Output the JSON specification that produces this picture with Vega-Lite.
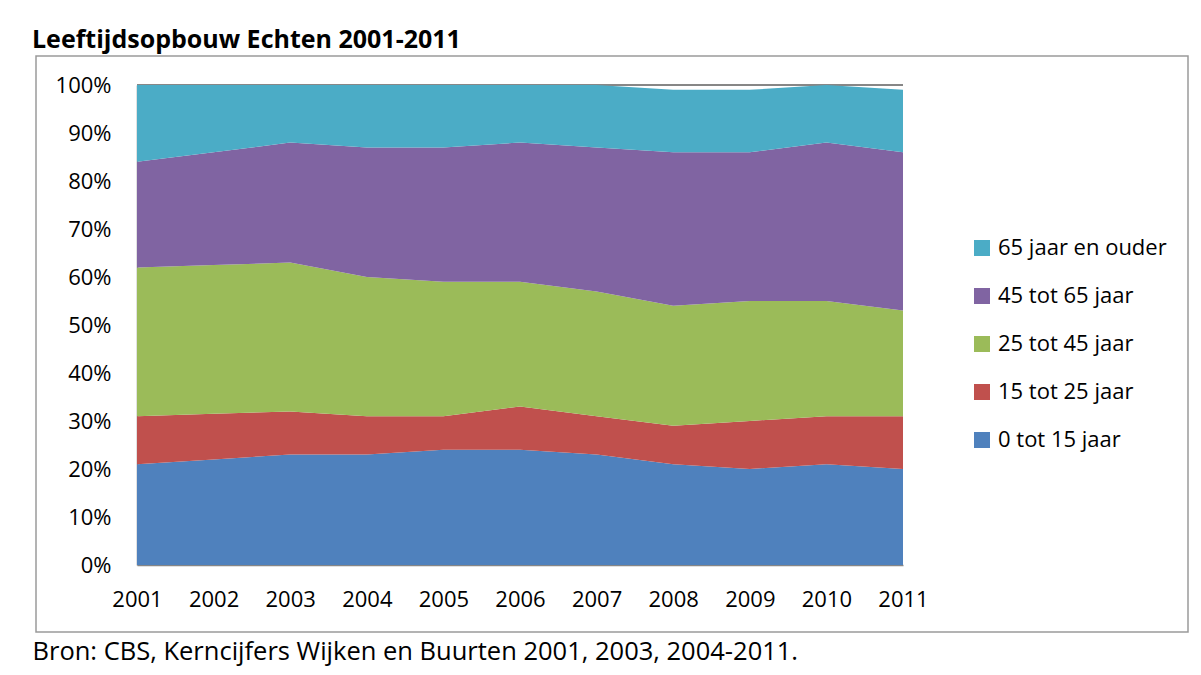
{
  "$schema": "https://vega.github.io/schema/vega-lite/v6.json",
  "width": 1152,
  "height": 576,
  "autosize": "none",
  "padding": {"left": 36, "top": 56, "right": 13, "bottom": 43},
  "background": "white",
  "title": {
    "text": "Leeftijdsopbouw Echten 2001-2011",
    "anchor": "start",
    "frame": "group",
    "font": "Open Sans",
    "fontSize": 25,
    "fontWeight": "bold",
    "color": "#000000",
    "baseline": "alphabetic",
    "dx": -4,
    "offset": -17
  },
  "config": {
    "view": {"stroke": "#9a9a9a", "strokeWidth": 1.5},
    "font": "Open Sans"
  },
  "data": {
    "values": [
      {"jaar": "2001", "groep": "0 tot 15 jaar", "rang": 1, "pct": 21},
      {"jaar": "2001", "groep": "15 tot 25 jaar", "rang": 2, "pct": 10},
      {"jaar": "2001", "groep": "25 tot 45 jaar", "rang": 3, "pct": 31},
      {"jaar": "2001", "groep": "45 tot 65 jaar", "rang": 4, "pct": 22},
      {"jaar": "2001", "groep": "65 jaar en ouder", "rang": 5, "pct": 16},
      {"jaar": "2002", "groep": "0 tot 15 jaar", "rang": 1, "pct": 22},
      {"jaar": "2002", "groep": "15 tot 25 jaar", "rang": 2, "pct": 9.5},
      {"jaar": "2002", "groep": "25 tot 45 jaar", "rang": 3, "pct": 31},
      {"jaar": "2002", "groep": "45 tot 65 jaar", "rang": 4, "pct": 23.5},
      {"jaar": "2002", "groep": "65 jaar en ouder", "rang": 5, "pct": 14},
      {"jaar": "2003", "groep": "0 tot 15 jaar", "rang": 1, "pct": 23},
      {"jaar": "2003", "groep": "15 tot 25 jaar", "rang": 2, "pct": 9},
      {"jaar": "2003", "groep": "25 tot 45 jaar", "rang": 3, "pct": 31},
      {"jaar": "2003", "groep": "45 tot 65 jaar", "rang": 4, "pct": 25},
      {"jaar": "2003", "groep": "65 jaar en ouder", "rang": 5, "pct": 12},
      {"jaar": "2004", "groep": "0 tot 15 jaar", "rang": 1, "pct": 23},
      {"jaar": "2004", "groep": "15 tot 25 jaar", "rang": 2, "pct": 8},
      {"jaar": "2004", "groep": "25 tot 45 jaar", "rang": 3, "pct": 29},
      {"jaar": "2004", "groep": "45 tot 65 jaar", "rang": 4, "pct": 27},
      {"jaar": "2004", "groep": "65 jaar en ouder", "rang": 5, "pct": 13},
      {"jaar": "2005", "groep": "0 tot 15 jaar", "rang": 1, "pct": 24},
      {"jaar": "2005", "groep": "15 tot 25 jaar", "rang": 2, "pct": 7},
      {"jaar": "2005", "groep": "25 tot 45 jaar", "rang": 3, "pct": 28},
      {"jaar": "2005", "groep": "45 tot 65 jaar", "rang": 4, "pct": 28},
      {"jaar": "2005", "groep": "65 jaar en ouder", "rang": 5, "pct": 13},
      {"jaar": "2006", "groep": "0 tot 15 jaar", "rang": 1, "pct": 24},
      {"jaar": "2006", "groep": "15 tot 25 jaar", "rang": 2, "pct": 9},
      {"jaar": "2006", "groep": "25 tot 45 jaar", "rang": 3, "pct": 26},
      {"jaar": "2006", "groep": "45 tot 65 jaar", "rang": 4, "pct": 29},
      {"jaar": "2006", "groep": "65 jaar en ouder", "rang": 5, "pct": 12},
      {"jaar": "2007", "groep": "0 tot 15 jaar", "rang": 1, "pct": 23},
      {"jaar": "2007", "groep": "15 tot 25 jaar", "rang": 2, "pct": 8},
      {"jaar": "2007", "groep": "25 tot 45 jaar", "rang": 3, "pct": 26},
      {"jaar": "2007", "groep": "45 tot 65 jaar", "rang": 4, "pct": 30},
      {"jaar": "2007", "groep": "65 jaar en ouder", "rang": 5, "pct": 13},
      {"jaar": "2008", "groep": "0 tot 15 jaar", "rang": 1, "pct": 21},
      {"jaar": "2008", "groep": "15 tot 25 jaar", "rang": 2, "pct": 8},
      {"jaar": "2008", "groep": "25 tot 45 jaar", "rang": 3, "pct": 25},
      {"jaar": "2008", "groep": "45 tot 65 jaar", "rang": 4, "pct": 32},
      {"jaar": "2008", "groep": "65 jaar en ouder", "rang": 5, "pct": 13},
      {"jaar": "2009", "groep": "0 tot 15 jaar", "rang": 1, "pct": 20},
      {"jaar": "2009", "groep": "15 tot 25 jaar", "rang": 2, "pct": 10},
      {"jaar": "2009", "groep": "25 tot 45 jaar", "rang": 3, "pct": 25},
      {"jaar": "2009", "groep": "45 tot 65 jaar", "rang": 4, "pct": 31},
      {"jaar": "2009", "groep": "65 jaar en ouder", "rang": 5, "pct": 13},
      {"jaar": "2010", "groep": "0 tot 15 jaar", "rang": 1, "pct": 21},
      {"jaar": "2010", "groep": "15 tot 25 jaar", "rang": 2, "pct": 10},
      {"jaar": "2010", "groep": "25 tot 45 jaar", "rang": 3, "pct": 24},
      {"jaar": "2010", "groep": "45 tot 65 jaar", "rang": 4, "pct": 33},
      {"jaar": "2010", "groep": "65 jaar en ouder", "rang": 5, "pct": 12},
      {"jaar": "2011", "groep": "0 tot 15 jaar", "rang": 1, "pct": 20},
      {"jaar": "2011", "groep": "15 tot 25 jaar", "rang": 2, "pct": 11},
      {"jaar": "2011", "groep": "25 tot 45 jaar", "rang": 3, "pct": 22},
      {"jaar": "2011", "groep": "45 tot 65 jaar", "rang": 4, "pct": 33},
      {"jaar": "2011", "groep": "65 jaar en ouder", "rang": 5, "pct": 13}
    ]
  },
  "encoding": {
    "x": {
      "field": "jaar",
      "type": "ordinal",
      "scale": {"type": "point", "padding": 0, "range": [101, 867]},
      "axis": {
        "title": "Bron: CBS, Kerncijfers Wijken en Buurten 2001, 2003, 2004-2011.",
        "titleFont": "Open Sans",
        "titleFontSize": 25.5,
        "titleFontWeight": "normal",
        "titleColor": "#000000",
        "titleAnchor": "start",
        "titleAlign": "left",
        "titleBaseline": "alphabetic",
        "titleX": -4,
        "titleY": 94,
        "titleLimit": 1200,
        "offset": -67,
        "labelAngle": 0,
        "labelFontSize": 22,
        "labelColor": "#000000",
        "labelPadding": 24,
        "ticks": false,
        "grid": false,
        "domainColor": "#868686",
        "domainWidth": 1.5
      }
    }
  },
  "layer": [
    {
      "mark": {"type": "rule", "color": "#868686", "strokeWidth": 1},
      "encoding": {
        "y": {"datum": 100, "type": "quantitative"},
        "x": {"datum": "2001"},
        "x2": {"datum": "2011"}
      }
    },
    {
      "mark": {"type": "area", "opacity": 1},
      "encoding": {
        "y": {
          "field": "pct",
          "type": "quantitative",
          "stack": "zero",
          "scale": {"domain": [0, 100], "range": [509, 29], "nice": false, "zero": true},
          "axis": {
            "title": null,
            "values": [0, 10, 20, 30, 40, 50, 60, 70, 80, 90, 100],
            "labelExpr": "datum.value + '%'",
            "labelFontSize": 22,
            "labelColor": "#000000",
            "labelPadding": 26,
            "offset": -101,
            "ticks": false,
            "grid": false,
            "domainColor": "#868686",
            "domainWidth": 1.5
          }
        },
        "order": {"field": "rang", "type": "quantitative", "sort": "ascending"},
        "color": {
          "field": "groep",
          "type": "nominal",
          "scale": {
            "domain": ["65 jaar en ouder", "45 tot 65 jaar", "25 tot 45 jaar", "15 tot 25 jaar", "0 tot 15 jaar"],
            "range": ["#4BACC6", "#8064A2", "#9BBB59", "#C0504D", "#4F81BD"]
          },
          "legend": {
            "title": null,
            "orient": "none",
            "legendX": 935,
            "legendY": 181,
            "padding": 0,
            "symbolType": "square",
            "symbolSize": 256,
            "symbolStrokeWidth": 0,
            "symbolOpacity": 1,
            "labelFontSize": 22,
            "labelLimit": 300,
            "labelColor": "#000000",
            "labelOffset": 5,
            "rowPadding": 26
          }
        }
      }
    }
  ]
}
